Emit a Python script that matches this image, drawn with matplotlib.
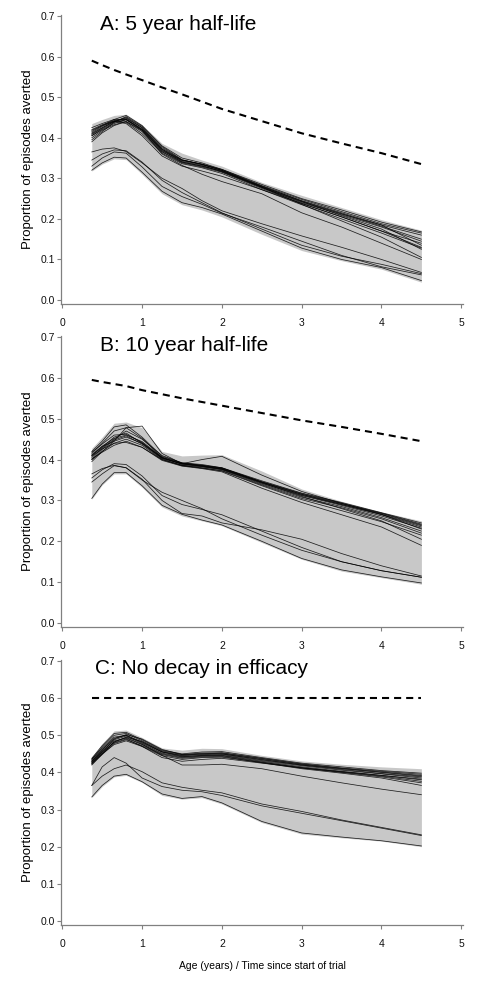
import matplotlib
matplotlib.use("Agg")
import matplotlib.pyplot as plt

plt.rcParams['font.family'] = ['Liberation Sans', 'DejaVu Sans']

# ---------------- data ----------------
# common age knots (years) for every curve
ages = [0.37, 0.5, 0.65, 0.8, 1.0, 1.25, 1.5, 1.75, 2.0, 2.5, 3.0, 3.5, 4.0, 4.5]

# panel A: 5 year half-life
dash_a = [0.590, 0.579, 0.567, 0.556, 0.542, 0.524, 0.507, 0.489, 0.471, 0.441, 0.411, 0.386, 0.362, 0.335]
band_a_hi = [0.435, 0.445, 0.455, 0.458, 0.432, 0.386, 0.362, 0.345, 0.330, 0.290, 0.258, 0.228, 0.198, 0.172]
band_a_lo = [0.318, 0.335, 0.348, 0.346, 0.310, 0.262, 0.235, 0.222, 0.205, 0.162, 0.122, 0.097, 0.076, 0.044]
lines_a = [
    [0.410, 0.425, 0.440, 0.450, 0.425, 0.375, 0.345, 0.335, 0.320, 0.280, 0.245, 0.215, 0.185, 0.160],
    [0.405, 0.420, 0.435, 0.445, 0.420, 0.370, 0.340, 0.330, 0.318, 0.278, 0.240, 0.210, 0.180, 0.145],
    [0.415, 0.430, 0.445, 0.455, 0.430, 0.380, 0.350, 0.338, 0.322, 0.282, 0.248, 0.218, 0.188, 0.165],
    [0.400, 0.418, 0.432, 0.440, 0.415, 0.365, 0.338, 0.328, 0.315, 0.275, 0.238, 0.205, 0.170, 0.130],
    [0.420, 0.432, 0.442, 0.448, 0.425, 0.372, 0.342, 0.332, 0.316, 0.277, 0.242, 0.212, 0.185, 0.135],
    [0.395, 0.415, 0.438, 0.452, 0.428, 0.378, 0.346, 0.334, 0.319, 0.279, 0.243, 0.208, 0.175, 0.125],
    [0.412, 0.428, 0.442, 0.438, 0.410, 0.362, 0.336, 0.326, 0.312, 0.272, 0.235, 0.200, 0.165, 0.128],
    [0.408, 0.424, 0.440, 0.446, 0.422, 0.368, 0.344, 0.334, 0.320, 0.281, 0.244, 0.213, 0.182, 0.150],
    [0.390, 0.412, 0.430, 0.440, 0.418, 0.366, 0.340, 0.330, 0.317, 0.278, 0.236, 0.195, 0.155, 0.105],
    [0.418, 0.430, 0.440, 0.435, 0.405, 0.355, 0.330, 0.318, 0.305, 0.272, 0.238, 0.205, 0.170, 0.140],
    [0.405, 0.422, 0.438, 0.444, 0.418, 0.360, 0.332, 0.310, 0.292, 0.262, 0.215, 0.180, 0.140, 0.100],
    [0.425, 0.435, 0.445, 0.445, 0.420, 0.372, 0.345, 0.335, 0.322, 0.285, 0.250, 0.222, 0.192, 0.168],
    [0.345, 0.360, 0.370, 0.368, 0.340, 0.295, 0.265, 0.240, 0.215, 0.175, 0.135, 0.108, 0.088, 0.065],
    [0.320, 0.338, 0.352, 0.350, 0.315, 0.268, 0.240, 0.228, 0.212, 0.170, 0.128, 0.100, 0.080, 0.048],
    [0.365, 0.372, 0.375, 0.366, 0.338, 0.300, 0.275, 0.245, 0.220, 0.188, 0.158, 0.130, 0.100, 0.068],
    [0.330, 0.350, 0.365, 0.362, 0.328, 0.280, 0.255, 0.236, 0.214, 0.180, 0.145, 0.110, 0.082, 0.062],
]

# panel B: 10 year half-life
dash_b = [0.595, 0.590, 0.585, 0.580, 0.570, 0.560, 0.550, 0.541, 0.532, 0.514, 0.496, 0.480, 0.463, 0.445]
band_b_hi = [0.428, 0.455, 0.489, 0.492, 0.478, 0.420, 0.409, 0.411, 0.412, 0.372, 0.328, 0.298, 0.272, 0.250]
band_b_lo = [0.303, 0.338, 0.365, 0.365, 0.332, 0.284, 0.262, 0.250, 0.238, 0.197, 0.156, 0.127, 0.111, 0.095]
lines_b = [
    [0.410, 0.430, 0.455, 0.465, 0.440, 0.405, 0.390, 0.385, 0.378, 0.345, 0.315, 0.292, 0.268, 0.240],
    [0.405, 0.428, 0.450, 0.470, 0.450, 0.410, 0.392, 0.386, 0.380, 0.348, 0.318, 0.295, 0.270, 0.245],
    [0.415, 0.440, 0.470, 0.478, 0.452, 0.405, 0.388, 0.383, 0.376, 0.342, 0.312, 0.288, 0.262, 0.232],
    [0.400, 0.425, 0.448, 0.458, 0.438, 0.402, 0.386, 0.382, 0.375, 0.340, 0.308, 0.285, 0.258, 0.225],
    [0.420, 0.445, 0.480, 0.485, 0.455, 0.408, 0.392, 0.388, 0.380, 0.345, 0.315, 0.290, 0.265, 0.235],
    [0.395, 0.420, 0.440, 0.450, 0.435, 0.400, 0.385, 0.380, 0.372, 0.336, 0.302, 0.275, 0.248, 0.215],
    [0.410, 0.432, 0.445, 0.455, 0.440, 0.403, 0.390, 0.384, 0.377, 0.343, 0.310, 0.280, 0.250, 0.205],
    [0.402, 0.418, 0.435, 0.445, 0.430, 0.398, 0.384, 0.378, 0.370, 0.330, 0.295, 0.265, 0.235, 0.190],
    [0.400, 0.420, 0.445, 0.478, 0.482, 0.415, 0.390, 0.400, 0.408, 0.362, 0.322, 0.293, 0.266, 0.230],
    [0.418, 0.438, 0.460, 0.462, 0.442, 0.404, 0.389, 0.384, 0.377, 0.344, 0.313, 0.290, 0.266, 0.238],
    [0.408, 0.426, 0.440, 0.442, 0.430, 0.400, 0.386, 0.379, 0.373, 0.338, 0.305, 0.282, 0.255, 0.220],
    [0.412, 0.433, 0.452, 0.460, 0.444, 0.406, 0.391, 0.386, 0.379, 0.346, 0.317, 0.293, 0.269, 0.242],
    [0.355, 0.375, 0.390, 0.388, 0.360, 0.312, 0.290, 0.278, 0.265, 0.225, 0.185, 0.150, 0.128, 0.112],
    [0.345, 0.365, 0.385, 0.380, 0.352, 0.300, 0.268, 0.262, 0.245, 0.228, 0.205, 0.170, 0.140, 0.115],
    [0.305, 0.340, 0.368, 0.368, 0.336, 0.288, 0.266, 0.252, 0.240, 0.200, 0.158, 0.130, 0.113, 0.098],
    [0.365, 0.378, 0.386, 0.380, 0.350, 0.320, 0.300, 0.280, 0.255, 0.215, 0.178, 0.150, 0.128, 0.112],
]

# panel C: no decay
dash_c = [0.600, 0.600, 0.600, 0.600, 0.600, 0.600, 0.600, 0.600, 0.600, 0.600, 0.600, 0.600, 0.600, 0.600]
band_c_hi = [0.442, 0.478, 0.512, 0.514, 0.494, 0.466, 0.460, 0.465, 0.464, 0.446, 0.431, 0.422, 0.415, 0.410]
band_c_lo = [0.332, 0.362, 0.388, 0.392, 0.373, 0.338, 0.328, 0.332, 0.315, 0.265, 0.234, 0.224, 0.215, 0.200]
lines_c = [
    [0.430, 0.460, 0.492, 0.500, 0.480, 0.455, 0.445, 0.448, 0.450, 0.435, 0.420, 0.410, 0.400, 0.390],
    [0.425, 0.455, 0.488, 0.498, 0.478, 0.452, 0.442, 0.446, 0.448, 0.432, 0.418, 0.406, 0.396, 0.385],
    [0.435, 0.468, 0.500, 0.505, 0.485, 0.458, 0.448, 0.452, 0.453, 0.438, 0.423, 0.412, 0.403, 0.395],
    [0.420, 0.450, 0.482, 0.495, 0.483, 0.455, 0.443, 0.445, 0.446, 0.430, 0.415, 0.403, 0.392, 0.380],
    [0.438, 0.472, 0.505, 0.508, 0.488, 0.460, 0.450, 0.455, 0.456, 0.440, 0.425, 0.415, 0.405, 0.398],
    [0.428, 0.458, 0.485, 0.492, 0.475, 0.450, 0.440, 0.444, 0.445, 0.428, 0.412, 0.400, 0.388, 0.372],
    [0.432, 0.462, 0.490, 0.502, 0.490, 0.462, 0.448, 0.450, 0.450, 0.434, 0.420, 0.408, 0.397, 0.388],
    [0.422, 0.448, 0.478, 0.488, 0.472, 0.448, 0.438, 0.442, 0.443, 0.426, 0.410, 0.398, 0.385, 0.365],
    [0.430, 0.455, 0.480, 0.490, 0.470, 0.440, 0.430, 0.435, 0.438, 0.425, 0.412, 0.402, 0.392, 0.382],
    [0.426, 0.452, 0.482, 0.494, 0.476, 0.446, 0.420, 0.420, 0.422, 0.410, 0.390, 0.372, 0.355, 0.340],
    [0.436, 0.465, 0.495, 0.500, 0.482, 0.456, 0.446, 0.450, 0.452, 0.437, 0.422, 0.411, 0.401, 0.392],
    [0.424, 0.450, 0.475, 0.485, 0.470, 0.445, 0.435, 0.440, 0.441, 0.427, 0.413, 0.401, 0.390, 0.376],
    [0.365, 0.415, 0.440, 0.425, 0.385, 0.362, 0.352, 0.348, 0.338, 0.310, 0.290, 0.270, 0.250, 0.230],
    [0.365, 0.390, 0.410, 0.420, 0.402, 0.372, 0.360, 0.352, 0.345, 0.315, 0.295, 0.272, 0.252, 0.232],
    [0.334, 0.365, 0.390, 0.395, 0.375, 0.342, 0.330, 0.335, 0.318, 0.268, 0.237, 0.226, 0.216, 0.202],
]

titles = ["A: 5 year half-life", "B: 10 year half-life", "C: No decay in efficacy"]
yticks = [0.0, 0.1, 0.2, 0.3, 0.4, 0.5, 0.6, 0.7]
xticks = [0, 1, 2, 3, 4, 5]

# ---------------- figure ----------------
W, H = 490, 989
fig = plt.figure(figsize=(W / 100, H / 100), dpi=100)

# axes boxes in pixels: left, top, width, bottom
boxes = [(61.0, 14.8, 401.9, 304.1),
         (61.0, 335.8, 401.9, 627.1),
         (61.0, 659.9, 401.9, 924.7)]
title_x = [0.47, 0.47, 0.41]

panels = [(dash_a, band_a_hi, band_a_lo, lines_a),
          (dash_b, band_b_hi, band_b_lo, lines_b),
          (dash_c, band_c_hi, band_c_lo, lines_c)]

spine_col = '#808080'
for i, (dash, hi, lo, lines) in enumerate(panels):
    l, t, w, b = boxes[i]
    ax = fig.add_axes([l / W, (H - b) / H, w / W, (b - t) / H])
    ax.fill_between(ages, lo, hi, color='#c8c8c8', linewidth=0)
    for ln in lines:
        ax.plot(ages, ln, color='black', lw=0.55, alpha=0.85)
    ax.plot(ages, dash, color='black', lw=1.5, linestyle=(0, (3.4, 2.4)))
    ax.set_xlim(-0.016, 5.02)
    ax.set_ylim(-0.01, 0.703)
    ax.set_xticks(xticks)
    ax.set_yticks(yticks)
    ax.set_yticklabels(["%.1f" % v for v in yticks])
    for s in ['top', 'right']:
        ax.spines[s].set_visible(False)
    for s in ['left', 'bottom']:
        ax.spines[s].set_color(spine_col)
        ax.spines[s].set_linewidth(0.9)
    ax.tick_params(axis='both', colors=spine_col, labelcolor='#111111',
                   labelsize=7.5, length=3, width=0.8)
    ax.tick_params(axis='y', pad=1)
    ax.tick_params(axis='x', pad=7)
    ax.set_ylabel("Proportion of episodes averted", fontsize=9.5)
    ax.yaxis.set_label_coords(-0.068, 0.5)
    ax.text(title_x[i], 0.68, titles[i], fontsize=15, va='center', ha='left')
    if i == 2:
        ax.set_xlabel("Age (years) / Time since start of trial", fontsize=7.5, labelpad=9)

fig.savefig("out.png", dpi=100)
